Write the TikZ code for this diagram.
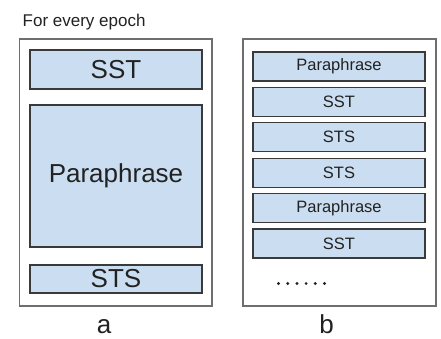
\documentclass[tikz,border=0pt]{standalone}
\usepackage{fontspec}
\setmainfont{Liberation Sans}
\definecolor{boxfill}{HTML}{CBDEF1}
\definecolor{boxdraw}{HTML}{3A3A3A}
\definecolor{outerdraw}{HTML}{6E6E6E}
\definecolor{txt}{HTML}{222222}
\begin{document}
\begin{tikzpicture}[x=1pt,y=1pt,
  outerbox/.style={draw=outerdraw,line width=1.4pt,fill=white,inner sep=0pt},
  bigtask/.style={draw=boxdraw,line width=1.3pt,fill=boxfill,inner sep=0pt,
    minimum width=172pt,text=txt,font=\fontsize{26}{30}\selectfont},
  smalltask/.style={draw=boxdraw,line width=1.3pt,fill=boxfill,inner sep=0pt,
    minimum width=172pt,minimum height=29pt,text=txt,font=\fontsize{16.5}{19}\selectfont},
  caption/.style={text=txt,font=\fontsize{26}{28}\selectfont,inner sep=0pt,anchor=base}]
\useasboundingbox (0,0) rectangle (441,-339);
\fill[white] (0,0) rectangle (441,-339);
% title
\node[text=txt,font=\fontsize{17}{20}\selectfont,inner sep=0pt,anchor=base west] (title) at (22.5,-26.5) {For every epoch};
% left panel
\node[outerbox,minimum width=192.5pt,minimum height=267pt] (outerA) at (115.75,-172.5) {};
\node[bigtask,minimum height=39pt] (sstA) at (116,-69.5) {SST};
\node[bigtask,minimum height=142pt] (paraA) at (116,-176) {Paraphrase};
\node[bigtask,minimum height=28pt] (stsA) at (116,-279) {STS};
\node[caption] (labA) at (104,-333) {a};
% right panel
\node[outerbox,minimum width=193pt,minimum height=267pt] (outerB) at (339.5,-172.5) {};
\node[smalltask] (b1) at (339,-66.5) {Paraphrase};
\node[smalltask] (b2) at (339,-101.9) {SST};
\node[smalltask] (b3) at (339,-137.3) {STS};
\node[smalltask] (b4) at (339,-172.7) {STS};
\node[smalltask] (b5) at (339,-208.1) {Paraphrase};
\node[smalltask] (b6) at (339,-243.5) {SST};
\foreach \i in {0,...,5} {
  \fill[txt] (278.5+9.2*\i,-283.5) circle (1.6pt);
}
\node[caption] (labB) at (326.5,-333) {b};
\end{tikzpicture}
\end{document}
